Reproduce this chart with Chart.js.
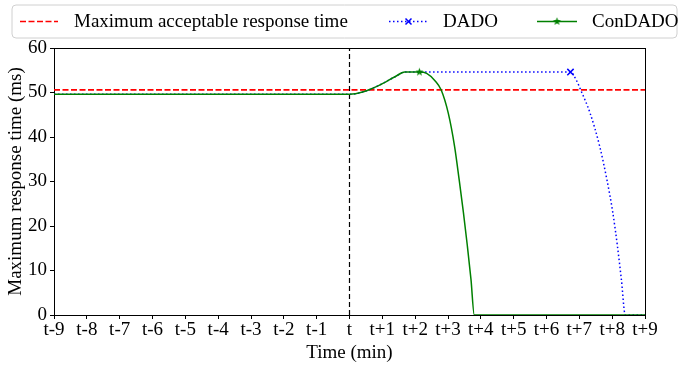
<!DOCTYPE html>
<html>
<head>
<meta charset="utf-8">
<script src="https://cdn.jsdelivr.net/npm/chart.js@4.4.0/dist/chart.umd.min.js"></script>
<style>
  html, body { margin: 0; padding: 0; background: #fff; }
  #wrap { width: 680px; height: 365px; position: relative; }
</style>
</head>
<body>
<div id="wrap"><canvas id="chart"></canvas></div>
<script>
// tick labels
const timeTicks = ["t-9","t-8","t-7","t-6","t-5","t-4","t-3","t-2","t-1","t",
  "t+1","t+2","t+3","t+4","t+5","t+6","t+7","t+8","t+9"];
const yTicks = [0, 10, 20, 30, 40, 50, 60];

// threshold line (ms)
const thresholdTime = [-9, 9];
const thresholdMs = [50.6, 50.6];

// ConDADO (minutes relative to t, ms)
const condadoTime = [-9, 0, 0.4, 0.9, 1.4, 1.68, 2.13, 2.35, 2.61, 2.79, 3.01, 3.20, 3.34, 3.47, 3.59, 3.70, 3.80, 9];
const condadoMs   = [49.6, 49.6, 50.1, 51.6, 53.6, 54.6, 54.6, 54.3, 52.6, 50.6, 45.3, 37.9, 30.4, 23.0, 15.5, 8.0, 0, 0];
const condadoMarkIdx = 6;

// DADO
const dadoTime = [-9, 0, 0.4, 0.9, 1.4, 1.68, 6.73, 6.92, 7.04, 7.33, 7.62, 7.84, 8.02, 8.16, 8.28, 8.40, 9];
const dadoMs   = [49.6, 49.6, 50.1, 51.6, 53.6, 54.6, 54.6, 52.6, 50.6, 45.3, 37.9, 30.4, 23.0, 15.5, 8.0, 0, 0];
const dadoMarkIdx = 6;

// event marker at t
const eventTime = [0, 0];
const eventMs = [0, 60];

const SERIF = '"Liberation Serif", "Times New Roman", serif';
Chart.defaults.font.family = SERIF;
Chart.defaults.font.size = 19;
Chart.defaults.color = "#000";

const toPts = (xs, ys) => xs.map((x, i) => ({ x, y: ys[i] }));

function starImage(color, r) {
  const c = document.createElement("canvas");
  const s = Math.ceil(r * 2 + 2);
  c.width = s; c.height = s;
  const g = c.getContext("2d");
  g.fillStyle = color;
  g.beginPath();
  for (let i = 0; i < 10; i++) {
    const rr = i % 2 === 0 ? r : r * 0.42;
    const a = -Math.PI / 2 + i * Math.PI / 5;
    const px = s / 2 + rr * Math.cos(a), py = s / 2 + rr * Math.sin(a);
    i === 0 ? g.moveTo(px, py) : g.lineTo(px, py);
  }
  g.closePath();
  g.fill();
  return c;
}
const greenStar = starImage("#008000", 4.2);

const frame = {
  id: "frame",
  beforeDatasetsDraw(chart) {
    const { ctx, chartArea: a } = chart;
    ctx.save();
    ctx.strokeStyle = "#000";
    ctx.lineWidth = 1;
    ctx.strokeRect(a.left + 0.5, a.top + 0.5, a.right - a.left, a.bottom - a.top);
    ctx.restore();
  }
};

function drawCross(ctx, x, y, r, color) {
  ctx.save();
  ctx.strokeStyle = color;
  ctx.lineWidth = 1.5;
  ctx.setLineDash([]);
  ctx.beginPath();
  ctx.moveTo(x - r, y - r); ctx.lineTo(x + r, y + r);
  ctx.moveTo(x - r, y + r); ctx.lineTo(x + r, y - r);
  ctx.stroke();
  ctx.restore();
}

const legendBox = {
  id: "legendBox",
  afterDraw(chart) {
    const ctx = chart.ctx;
    const ds = chart.data.datasets;
    ctx.save();
    // box
    const bx = 12, by = 5, bw = 665, bh = 33, r = 4;
    ctx.beginPath();
    ctx.moveTo(bx + r, by);
    ctx.arcTo(bx + bw, by, bx + bw, by + bh, r);
    ctx.arcTo(bx + bw, by + bh, bx, by + bh, r);
    ctx.arcTo(bx, by + bh, bx, by, r);
    ctx.arcTo(bx, by, bx + bw, by, r);
    ctx.closePath();
    ctx.fillStyle = "rgba(255,255,255,0.8)";
    ctx.fill();
    ctx.strokeStyle = "#d0d0d0";
    ctx.lineWidth = 1;
    ctx.stroke();

    const cy = 21.5;
    const items = [
      { d: ds[0], x0: 20, x1: 58, tx: 74 },
      { d: ds[1], x0: 389, x1: 428, tx: 443, mark: "x" },
      { d: ds[2], x0: 537, x1: 577, tx: 592, mark: "star" }
    ];
    ctx.font = "19px " + SERIF;
    ctx.textBaseline = "middle";
    ctx.fillStyle = "#000";
    items.forEach(it => {
      ctx.save();
      ctx.strokeStyle = it.d.borderColor;
      ctx.lineWidth = it.d.borderWidth;
      ctx.setLineDash(it.d.borderDash || []);
      ctx.beginPath();
      ctx.moveTo(it.x0, cy); ctx.lineTo(it.x1, cy);
      ctx.stroke();
      ctx.restore();
      const mx = (it.x0 + it.x1) / 2;
      if (it.mark === "x") drawCross(ctx, mx, cy, 3, it.d.borderColor);
      if (it.mark === "star") ctx.drawImage(greenStar, mx - greenStar.width / 2, cy - greenStar.height / 2);
      ctx.fillText(it.d.label, it.tx, cy + 1);
    });
    ctx.restore();
  }
};

new Chart(document.getElementById("chart"), {
  type: "line",
  data: {
    datasets: [
      {
        label: "Maximum acceptable response time",
        data: toPts(thresholdTime, thresholdMs),
        borderColor: "#ff0000",
        borderWidth: 1.6,
        borderDash: [6, 2.5],
        pointRadius: 0,
        order: 3
      },
      {
        label: "DADO",
        data: toPts(dadoTime, dadoMs),
        borderColor: "#0000ff",
        borderWidth: 1.5,
        borderDash: [1.5, 2.5],
        cubicInterpolationMode: "monotone",
        pointStyle: "crossRot",
        pointRadius: c => c.dataIndex === dadoMarkIdx ? 4.5 : 0,
        pointBorderWidth: 1.5,
        pointBorderColor: "#0000ff",
        order: 2
      },
      {
        label: "ConDADO",
        data: toPts(condadoTime, condadoMs),
        borderColor: "#008000",
        borderWidth: 1.5,
        cubicInterpolationMode: "monotone",
        pointStyle: greenStar,
        pointRadius: c => c.dataIndex === condadoMarkIdx ? 4 : 0,
        order: 1
      },
      {
        label: "",
        data: toPts(eventTime, eventMs),
        borderColor: "#000",
        borderWidth: 1.2,
        borderDash: [5, 3],
        pointRadius: 0,
        order: 4
      }
    ]
  },
  options: {
    responsive: true,
    maintainAspectRatio: false,
    animation: false,
    events: [],
    layout: { padding: { top: 48, right: 35, left: 0, bottom: 0 } },
    plugins: { legend: { display: false }, tooltip: { enabled: false } },
    scales: {
      x: {
        type: "linear",
        min: -9, max: 9,
        afterFit: s => { s.height = 50; },
        afterBuildTicks: s => { s.ticks = timeTicks.map((_, i) => ({ value: i - 9 })); },
        ticks: {
          autoSkip: false, maxRotation: 0, padding: 2,
          font: { size: 19, lineHeight: 1 },
          callback: v => timeTicks[Math.round(v) + 9]
        },
        grid: { drawOnChartArea: false, drawTicks: true, tickLength: 4, color: "#000" },
        border: { display: true, color: "#000" },
        title: { display: true, text: "Time (min)", font: { size: 19, lineHeight: 1.2 }, padding: { top: 0, bottom: 1 } }
      },
      y: {
        min: 0, max: 60,
        afterFit: s => { s.width = 54; },
        afterBuildTicks: s => { s.ticks = yTicks.map(v => ({ value: v })); },
        ticks: { padding: 3, font: { size: 19 } },
        grid: { drawOnChartArea: false, drawTicks: true, tickLength: 4, color: "#000" },
        border: { display: true, color: "#000" },
        title: { display: true, text: "Maximum response time (ms)", font: { size: 19, lineHeight: 1.2 }, padding: { top: 5, bottom: 0 } }
      }
    }
  },
  plugins: [frame, legendBox]
});
</script>
</body>
</html>
